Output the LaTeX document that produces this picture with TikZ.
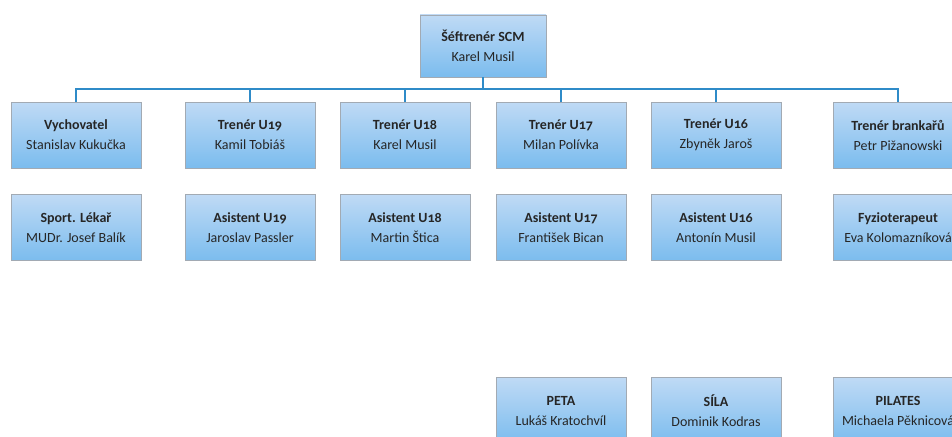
\documentclass[tikz,border=0pt]{standalone}
\usepackage{fontspec}
\setmainfont{Carlito}[Numbers=OldStyle]
\usepackage{tikz}
\usetikzlibrary{positioning}
\definecolor{boxtop}{HTML}{BFDAF5}
\definecolor{boxbot}{HTML}{7BBCEE}
\definecolor{boxline}{HTML}{A2AAB3}
\definecolor{vetev}{HTML}{2F8BC8}
\tikzstyle{funkce} = [rectangle,minimum width=130,minimum height=66,text centered,align=center,draw=boxline,line width=0.8pt,top color=boxtop,bottom color=boxbot,text=black!85,font=\fontsize{14}{20}\selectfont]
\tikzstyle{sef} = [funkce,minimum width=126,minimum height=62]
\tikzstyle{vetev} = [draw=vetev,line width=1.4pt]
\newcommand{\osoba}[2]{\textbf{#1}\\#2}

\begin{document}
\begin{tikzpicture}[x=1pt,y=-1pt]
\clip (0,0) rectangle (952,436);

\node (SCM) [sef] at (483,46) {\osoba{Šéftrenér SCM}{Karel Musil}};

% treneri
\node (VYCH) [funkce] at (76,135) {\osoba{Vychovatel}{Stanislav Kukučka}};
\node (T19)  [funkce] at (250,135) {\osoba{Trenér U19}{Kamil Tobiáš}};
\node (T18)  [funkce] at (405,135) {\osoba{Trenér U18}{Karel Musil}};
\node (T17)  [funkce] at (561,135) {\osoba{Trenér U17}{Milan Polívka}};
\node (T16)  [funkce] at (716,135) {\osoba{Trenér U16}{Zbyněk Jaroš}};
\node (TB)   [funkce] at (898,135) {\osoba{Trenér brankařů}{Petr Pižanowski}};

% asistenti
\node (LEK)  [funkce,below=26pt of VYCH] {\osoba{Sport. Lékař}{MUDr. Josef Balík}};
\node (A19)  [funkce,below=26pt of T19] {\osoba{Asistent U19}{Jaroslav Passler}};
\node (A18)  [funkce,below=26pt of T18] {\osoba{Asistent U18}{Martin Štica}};
\node (A17)  [funkce,below=26pt of T17] {\osoba{Asistent U17}{František Bican}};
\node (A16)  [funkce,below=26pt of T16] {\osoba{Asistent U16}{Antonín Musil}};
\node (FYZ)  [funkce,below=26pt of TB] {\osoba{Fyzioterapeut}{Eva Kolomazníková}};

% kondice
\node (PETA) [funkce,below=116pt of A17] {\osoba{PETA}{Lukáš Kratochvíl}};
\node (SILA) [funkce,below=116pt of A16] {\osoba{SÍLA}{Dominik Kodras}};
\node (PIL)  [funkce,below=116pt of FYZ] {\osoba{PILATES}{Michaela Pěknicová}};

\coordinate (bus) at (483,89);
\draw[vetev,line width=2.6pt] (SCM.south) -- (bus);
\foreach \n in {VYCH,T19,T18,T17,T16,TB}
  \draw[vetev] (bus) -| (\n.north);
\end{tikzpicture}
\end{document}
